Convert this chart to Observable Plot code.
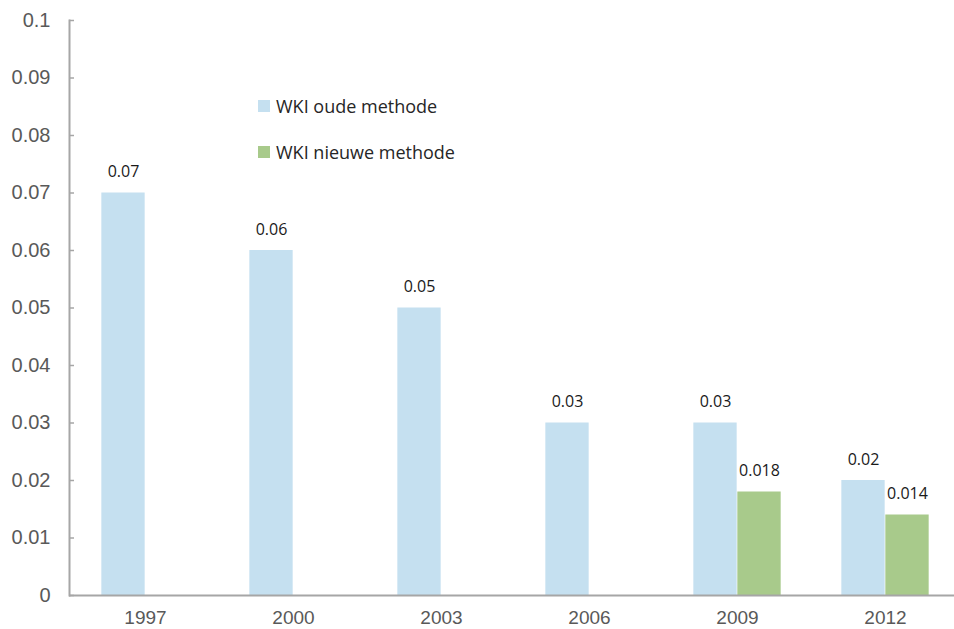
<!DOCTYPE html>
<html>
<head>
<meta charset="utf-8">
<script src="https://cdn.jsdelivr.net/npm/d3@7"></script>
<script src="https://cdn.jsdelivr.net/npm/@observablehq/plot@0.6"></script>
<style>
  html, body { margin: 0; padding: 0; background: #fff; }
  #wrap { position: relative; width: 954px; height: 629px; overflow: hidden; }
  .legend { position: absolute; left: 258px; font-family: "Open Sans", "Lato", sans-serif; font-size: 18px; color: #262626; display: flex; align-items: center; }
  .legend span.sw { display: inline-block; width: 12px; height: 12px; margin-right: 6px; }
</style>
</head>
<body>
<div id="wrap"></div>
<script>
const years = ["1997", "2000", "2003", "2006", "2009", "2012"];
const oudeMethode = [0.07, 0.06, 0.05, 0.03, 0.03, 0.02];
const nieuweMethode = [null, null, null, null, 0.018, 0.014];
const yTicks = [0, 0.01, 0.02, 0.03, 0.04, 0.05, 0.06, 0.07, 0.08, 0.09, 0.1];
const seriesNames = ["WKI oude methode", "WKI nieuwe methode"];
const colors = ["#c5e0f0", "#a8ca8b"];

const oudData = years.map((y, i) => ({year: y, value: oudeMethode[i]}));
const nieuwData = years.map((y, i) => ({year: y, value: nieuweMethode[i]})).filter(d => d.value != null);

const W = 954, H = 629;
const mL = 69, mR = -7;
const step = (W - mL - mR) / years.length;
const pairW = 88, barW = pairW / 2;
const outerInset = (step - pairW) / 2;

const axisColor = "#a6a6a6";
const fmtTick = d => d === 0 ? "0" : String(+d.toFixed(2));
const labelFont = "Open Sans, Lato, sans-serif";

const chart = Plot.plot({
  width: W,
  height: H,
  marginLeft: mL,
  marginRight: mR,
  marginTop: 20,
  marginBottom: 34,
  style: {background: "#fff", fontFamily: "Liberation Sans, Arial, sans-serif", overflow: "hidden"},
  x: {domain: years, padding: 0},
  y: {domain: [0, 0.1]},
  marks: [
    Plot.barY(oudData, {x: "year", y: "value", fill: colors[0], insetLeft: outerInset, insetRight: outerInset + barW}),
    Plot.barY(nieuwData, {x: "year", y: "value", fill: colors[1], insetLeft: outerInset + barW, insetRight: outerInset}),
    Plot.text(oudData, {x: "year", y: "value", text: d => String(d.value), dx: -barW / 2, dy: -21, fill: "#1a1a1a", fontSize: 16, fontFamily: labelFont}),
    Plot.text(nieuwData, {x: "year", y: "value", text: d => String(d.value), dx: barW / 2, dy: -21, fill: "#1a1a1a", fontSize: 16, fontFamily: labelFont}),
    Plot.axisY({ticks: yTicks, tickFormat: fmtTick, tickSize: 0, tickPadding: 19, fontSize: 20, fill: "#595959", label: null}),
    Plot.tickY(yTicks, {y: d => d, stroke: axisColor, strokeWidth: 1.5, insetLeft: 0, insetRight: W - mL - mR - 5}),
    Plot.axisX({tickSize: 0, tickPadding: 15, fontSize: 19, fill: "#595959", label: null}),
    Plot.ruleY([0], {stroke: axisColor, strokeWidth: 2}),
    Plot.frame({anchor: "left", stroke: axisColor, strokeWidth: 2})
  ]
});

const wrap = document.getElementById("wrap");
wrap.appendChild(chart);
const legendTops = [94, 140];
seriesNames.forEach((name, i) => {
  const div = document.createElement("div");
  div.className = "legend";
  div.style.top = legendTops[i] + "px";
  div.innerHTML = `<span class="sw" style="background:${colors[i]}"></span>${name}`;
  wrap.appendChild(div);
});
</script>
</body>
</html>
